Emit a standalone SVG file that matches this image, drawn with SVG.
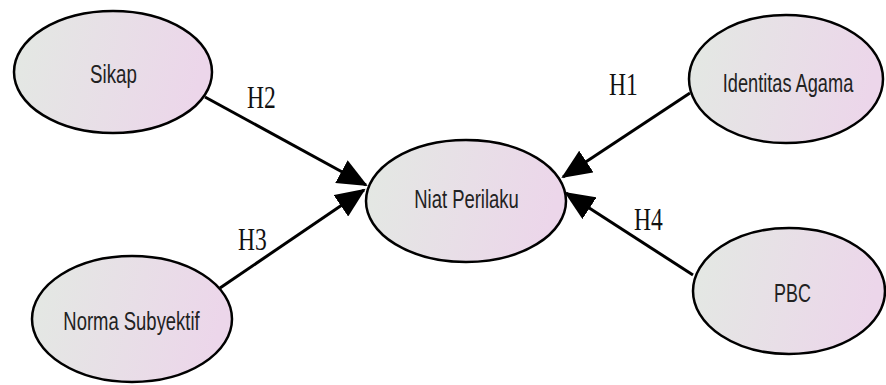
<svg xmlns="http://www.w3.org/2000/svg" width="886" height="385" viewBox="0 0 886 385">
<defs>
<linearGradient id="fill" x1="0" y1="0" x2="1" y2="0.15">
<stop offset="0" stop-color="#e3e9e3"/>
<stop offset="1" stop-color="#ecd6ea"/>
</linearGradient>
<marker id="arr" markerUnits="userSpaceOnUse" markerWidth="32" markerHeight="26" refX="28" refY="13" orient="auto">
<path d="M0,0 L30,13 L0,26 Z" fill="#000"/>
</marker>
<style>
.node ellipse{fill:url(#fill);stroke:#000;stroke-width:2.5}
.node text{font-family:"Liberation Sans",Arial,sans-serif;font-size:26px;fill:#222;text-anchor:middle}
.edge{stroke:#000;stroke-width:3;fill:none;marker-end:url(#arr)}
.lbl{font-family:"Liberation Serif","Times New Roman",serif;font-size:31px;fill:#111;text-anchor:middle}
</style>
</defs>
<g id="connectors">
<line class="edge" x1="205" y1="97" x2="366" y2="185"/>
<line class="edge" x1="220" y1="288" x2="364" y2="190"/>
<line class="edge" x1="690" y1="93" x2="563" y2="177"/>
<line class="edge" x1="693" y1="275" x2="566" y2="193"/>
<text class="lbl" transform="translate(261.5,108) scale(0.76,1)">H2</text>
<text class="lbl" transform="translate(623.5,95) scale(0.76,1)">H1</text>
<text class="lbl" transform="translate(252.5,250) scale(0.76,1)">H3</text>
<text class="lbl" transform="translate(648.5,230) scale(0.76,1)">H4</text>
</g>
<g id="sikap" class="node">
<ellipse cx="113" cy="72" rx="99" ry="61"/>
<text transform="translate(113.5,83) scale(0.72,1)">Sikap</text>
</g>
<g id="identitas-agama" class="node">
<ellipse cx="786" cy="79" rx="97" ry="64"/>
<text transform="translate(788,92) scale(0.70,1)">Identitas Agama</text>
</g>
<g id="niat-perilaku" class="node">
<ellipse cx="466" cy="201" rx="100" ry="61"/>
<text transform="translate(466.5,208) scale(0.71,1)">Niat Perilaku</text>
</g>
<g id="norma-subyektif" class="node">
<ellipse cx="132" cy="319" rx="100" ry="63"/>
<text transform="translate(131.5,330) scale(0.71,1)">Norma Subyektif</text>
</g>
<g id="pbc" class="node">
<ellipse cx="789" cy="291" rx="96" ry="63"/>
<text transform="translate(792.5,302) scale(0.69,1)">PBC</text>
</g>
</svg>
